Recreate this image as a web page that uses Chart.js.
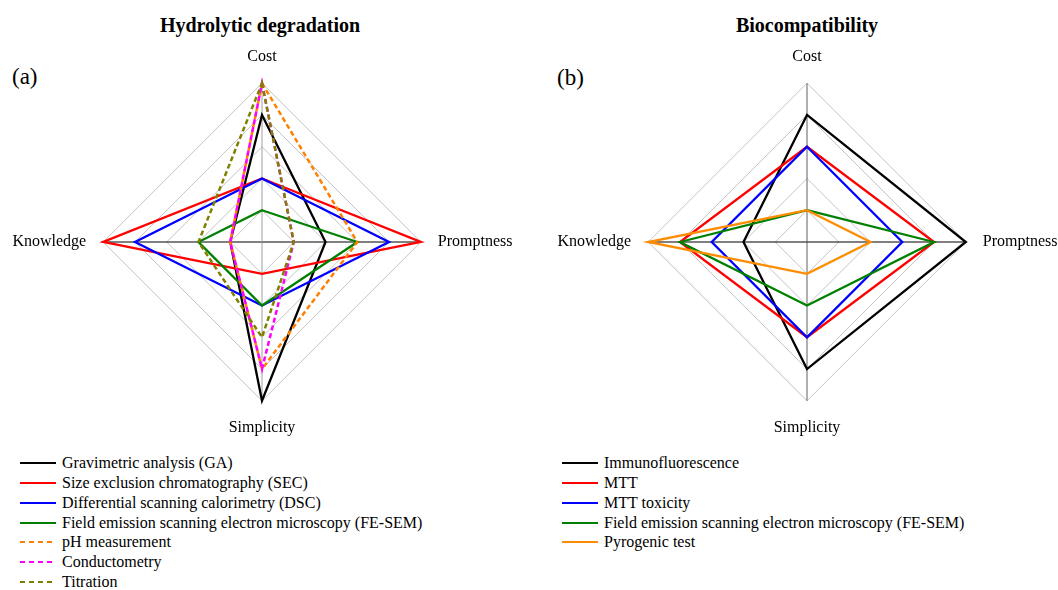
<!DOCTYPE html>
<html>
<head>
<meta charset="utf-8">
<script src="https://cdn.jsdelivr.net/npm/chart.js@4/dist/chart.umd.min.js"></script>
<style>
  html, body { margin: 0; padding: 0; background: #fff; width: 1058px; height: 590px; overflow: hidden; position: relative; font-family: 'Liberation Serif', 'Times New Roman', serif; color: #000; }
  canvas { position: absolute; }
  .title { position: absolute; font-weight: bold; font-size: 20px; line-height: 24px; text-align: center; white-space: nowrap; }
  .panel { position: absolute; font-size: 23px; line-height: 26px; white-space: nowrap; }
  .legend { position: absolute; font-size: 16px; font-family: 'Liberation Serif', 'Times New Roman', serif; }
  .row { position: absolute; left: 0; height: 20px; display: flex; align-items: center; white-space: nowrap; }
  .row svg { display: block; margin-right: 6px; }
</style>
</head>
<body>
<div class="title" style="left:110px; top:13px; width:300px;">Hydrolytic degradation</div>
<div class="title" style="left:657px; top:13px; width:300px;">Biocompatibility</div>
<div class="panel" style="left:12px; top:64px;">(a)</div>
<div class="panel" style="left:557px; top:65px;">(b)</div>
<canvas id="chartA" width="574" height="390" style="left:-25px; top:47px; width:574px; height:390px;"></canvas>
<canvas id="chartB" width="574" height="390" style="left:520px; top:47px; width:574px; height:390px;"></canvas>
<div class="legend" id="legendA" style="left:20px; top:453px;"></div>
<div class="legend" id="legendB" style="left:562px; top:453px;"></div>
<script>
// ---- Data ----
const axisLabels = ['Cost', 'Promptness', 'Simplicity', 'Knowledge'];

// (a) Hydrolytic degradation
const seriesNamesA = [
  'Gravimetric analysis (GA)',
  'Size exclusion chromatography (SEC)',
  'Differential scanning calorimetry (DSC)',
  'Field emission scanning electron microscopy (FE-SEM)',
  'pH measurement',
  'Conductometry',
  'Titration'
];
const gravimetric   = [4, 2, 5, 1];
const sizeExclusion = [2, 5, 1, 5];
const dsc           = [2, 4, 2, 4];
const feSemA        = [1, 3, 2, 2];
const phMeasurement = [5, 3, 4, 1];
const conductometry = [5, 1, 4, 1];
const titration     = [5, 1, 3, 2];

// (b) Biocompatibility
const seriesNamesB = [
  'Immunofluorescence',
  'MTT',
  'MTT toxicity',
  'Field emission scanning electron microscopy (FE-SEM)',
  'Pyrogenic test'
];
const immunofluorescence = [4, 5, 4, 2];
const mtt                = [3, 4, 3, 4];
const mttToxicity        = [3, 3, 3, 3];
const feSemB             = [1, 4, 2, 4];
const pyrogenic          = [1, 2, 1, 5];

const scaleMin = 0;
const scaleMax = 5;
const scaleStep = 1;

// ---- Styles ----
const colorsA = ['#000000', '#ff0000', '#0000ff', '#008000', '#ff8000', '#ff00ff', '#808000'];
const dashedA = [false, false, false, false, true, true, true];
const colorsB = ['#000000', '#ff0000', '#0000ff', '#008000', '#ff8c00'];
const dashedB = [false, false, false, false, false];
const DASH = [5, 3];

function makeDatasets(names, values, colors, dashed) {
  return names.map((name, i) => ({
    label: name,
    data: values[i],
    borderColor: colors[i],
    backgroundColor: 'transparent',
    borderWidth: dashed[i] ? 2.5 : 2.3,
    borderDash: dashed[i] ? DASH : [],
    fill: false,
    pointRadius: 0,
    pointHoverRadius: 0,
    tension: 0,
    order: -i
  }));
}

function makeOptions(verticalAxisColor) {
  return {
    responsive: false,
    animation: false,
    events: [],
    layout: { padding: 0 },
    plugins: { legend: { display: false }, title: { display: false }, tooltip: { enabled: false } },
    elements: { line: { borderJoinStyle: 'miter' } },
    scales: {
      r: {
        min: scaleMin,
        max: scaleMax,
        beginAtZero: true,
        ticks: { display: false, stepSize: scaleStep },
        grid: { color: '#c4c4c4', lineWidth: 1 },
        angleLines: {
          display: true,
          lineWidth: 1,
          color: (ctx) => (ctx.index % 2 === 1 ? '#000000' : verticalAxisColor)
        },
        pointLabels: {
          display: true,
          padding: 17,
          color: '#000',
          font: { family: "'Liberation Serif', 'Times New Roman', serif", size: 16 }
        }
      }
    }
  };
}

new Chart(document.getElementById('chartA'), {
  type: 'radar',
  data: {
    labels: axisLabels,
    datasets: makeDatasets(seriesNamesA,
      [gravimetric, sizeExclusion, dsc, feSemA, phMeasurement, conductometry, titration],
      colorsA, dashedA)
  },
  options: makeOptions('#a0a0a0')
});

new Chart(document.getElementById('chartB'), {
  type: 'radar',
  data: {
    labels: axisLabels,
    datasets: makeDatasets(seriesNamesB,
      [immunofluorescence, mtt, mttToxicity, feSemB, pyrogenic],
      colorsB, dashedB)
  },
  options: makeOptions('#606060')
});

// ---- HTML legends ----
function buildLegend(el, names, colors, dashed) {
  names.forEach((name, i) => {
    const row = document.createElement('div');
    row.className = 'row';
    row.style.top = (i * 19.85) + 'px';
    const svgNS = 'http://www.w3.org/2000/svg';
    const svg = document.createElementNS(svgNS, 'svg');
    svg.setAttribute('width', '36');
    svg.setAttribute('height', '6');
    const line = document.createElementNS(svgNS, 'line');
    line.setAttribute('x1', '0'); line.setAttribute('y1', '3');
    line.setAttribute('x2', '36'); line.setAttribute('y2', '3');
    line.setAttribute('stroke', colors[i]);
    line.setAttribute('stroke-width', '2');
    if (dashed[i]) line.setAttribute('stroke-dasharray', '5,4');
    svg.appendChild(line);
    const span = document.createElement('span');
    span.textContent = name;
    row.appendChild(svg);
    row.appendChild(span);
    el.appendChild(row);
  });
}
buildLegend(document.getElementById('legendA'), seriesNamesA, colorsA, dashedA);
buildLegend(document.getElementById('legendB'), seriesNamesB, colorsB, dashedB);
</script>
</body>
</html>
